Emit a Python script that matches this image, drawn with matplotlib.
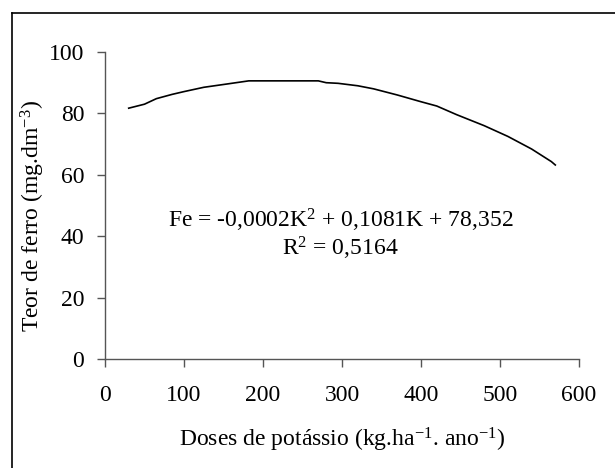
""" Teor de ferro x doses de potassio """

# Imports
import matplotlib
matplotlib.use("Agg")
import matplotlib.pyplot as plt
from matplotlib.lines import Line2D

# values
doses = [30, 50, 65, 85, 100, 125, 155, 182, 270, 280, 295, 320, 340, 370,
         400, 420, 445, 480, 510, 540, 565, 570]
ferro = [81.7, 83.0, 84.8, 86.2, 87.1, 88.5, 89.6, 90.6, 90.6, 90.0, 89.8,
         89.0, 88.0, 86.0, 83.8, 82.4, 79.6, 76.0, 72.5, 68.4, 64.3, 63.2]
xticks = [0, 100, 200, 300, 400, 500, 600]
yticks = [0, 20, 40, 60, 80, 100]

plt.rcParams['font.family'] = ['Liberation Serif', 'DejaVu Serif']
plt.rcParams['mathtext.fontset'] = 'custom'
plt.rcParams['mathtext.rm'] = 'Liberation Serif'
plt.rcParams['mathtext.it'] = 'Liberation Serif'

fs = 17

fig = plt.figure(figsize=(6.15, 4.68), dpi=100)
ax = fig.add_axes([105 / 615, 1 - 359 / 468, 474 / 615, 307 / 468])

ax.plot(doses, ferro, color='black', lw=1.2)

ax.set_xlim(0, 600)
ax.set_ylim(0, 100)
ax.set_xticks(xticks)
ax.set_yticks(yticks)

for s in ['top', 'right']:
    ax.spines[s].set_visible(False)
for s in ['left', 'bottom']:
    ax.spines[s].set_color('#555555')
    ax.spines[s].set_linewidth(1.0)

ax.tick_params(axis='both', direction='out', length=6, width=1.0,
               color='#555555', labelsize=fs)
ax.tick_params(axis='y', pad=9)
ax.tick_params(axis='x', pad=13)

ax.set_xlabel('Doses de potássio (kg.ha$^{-1}$. ano$^{-1}$)', fontsize=fs,
              labelpad=14)
ax.set_ylabel('Teor de ferro (mg.dm$^{-3}$)', fontsize=fs)
ax.yaxis.set_label_coords(-0.122, 0.465)

# equation of the fit
ax.text(298, 45.2, 'Fe = -0,0002K$^2$ + 0,1081K + 78,352', fontsize=fs,
        ha='center', va='center')
ax.text(298, 36, 'R$^2$ = 0,5164', fontsize=fs, ha='center', va='center')

# outer frame (left and top only visible)
fx = 12 / 615
fy = 1 - 13 / 468
fig.add_artist(Line2D([fx, fx], [0, fy], color='black', lw=1.2))
fig.add_artist(Line2D([fx, 1], [fy, fy], color='black', lw=1.2))

plt.savefig("out.png", dpi=100)
